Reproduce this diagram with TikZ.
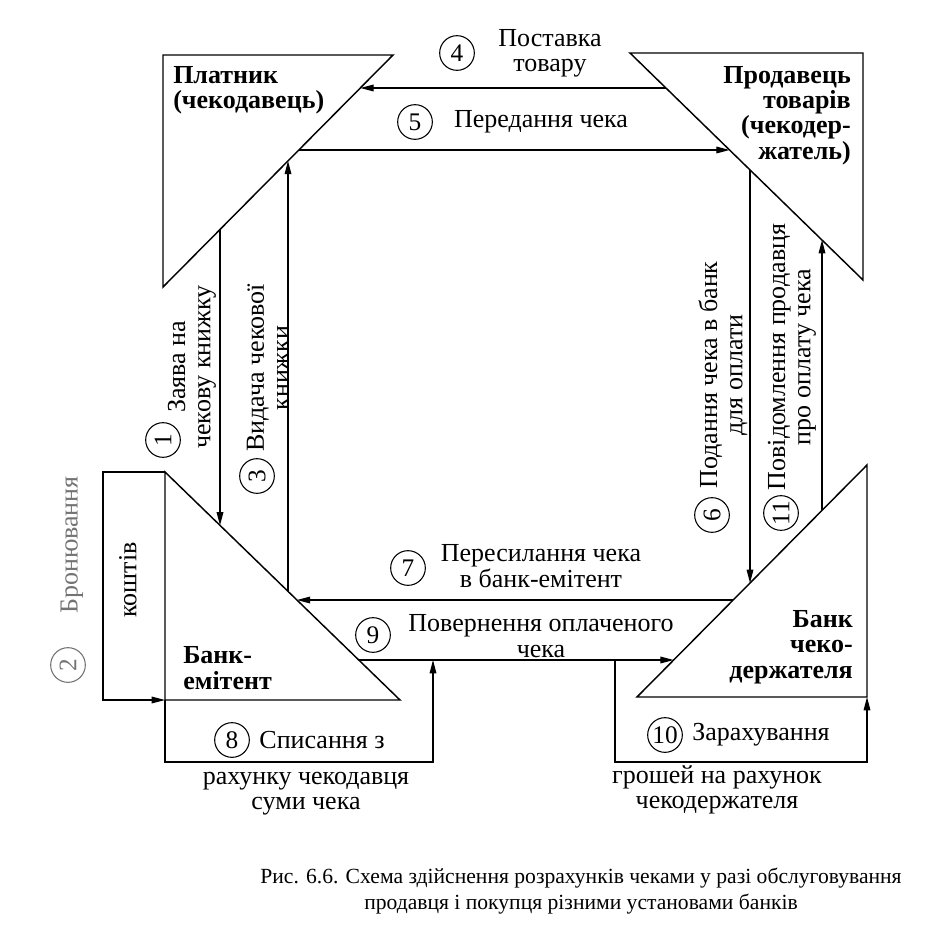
\documentclass[tikz,border=0pt]{standalone}
\usepackage{fontspec}
\setmainfont{Liberation Serif}
\usetikzlibrary{arrows.meta}
\begin{document}
\begin{tikzpicture}[x=0.75pt,y=-0.75pt,
  ln/.style={line width=1.1pt},
  thinln/.style={line width=0.9pt},
  arr/.style={thinln,-{Triangle[length=10pt,width=5pt]}},
  lbl/.style={inner sep=0pt,font=\fontsize{19.5}{19}\selectfont,align=center},
  blbl/.style={inner sep=0pt,font=\fontsize{19.5}{19}\selectfont\bfseries},
  num/.style={circle,draw,line width=0.8pt,minimum size=26pt,inner sep=0pt,font=\fontsize{19}{19}\selectfont},
  faded/.style={black!55},
  captxt/.style={inner sep=0pt,font=\fontsize{16.2}{20}\selectfont,align=center}]
\useasboundingbox (0,0) rectangle (925,952);
% triangles
\coordinate (A1) at (163,55); \coordinate (A2) at (393,55); \coordinate (A3) at (163,287);
\coordinate (B1) at (630,53); \coordinate (B2) at (863,53); \coordinate (B3) at (863,280);
\coordinate (C1) at (165,472); \coordinate (C2) at (165,700); \coordinate (C3) at (400,700);
\coordinate (D1) at (867,465); \coordinate (D2) at (867,697); \coordinate (D3) at (637,697);
\draw[ln] (A1)--(A2)--(A3)--cycle;
\draw[ln] (B1)--(B2)--(B3)--cycle;
\draw[ln] (C1)--(C2)--(C3)--cycle;
\draw[ln] (D1)--(D2)--(D3)--cycle;
% connector end points
\coordinate (a4s) at (665.9,88);  \coordinate (a4e) at (360.3,88);
\coordinate (a5s) at (298.8,150); \coordinate (a5e) at (729.6,150);
\coordinate (a1s) at (220,229.5); \coordinate (a1e) at (220,525.4);
\coordinate (a3s) at (288,591.3); \coordinate (a3e) at (288,160.9);
\coordinate (a6s) at (750,169.9); \coordinate (a6e) at (750,583.0);
\coordinate (a11s) at (822,510.4); \coordinate (a11e) at (822,240.0);
\coordinate (a7s) at (733.1,600); \coordinate (a7e) at (296.9,600);
\coordinate (a9s) at (358.8,660); \coordinate (a9e) at (673.7,660);
\coordinate (p2a) at (103,472); \coordinate (p2b) at (103,700);
\coordinate (p8a) at (165,762); \coordinate (p8b) at (433,762); \coordinate (p8e) at (433,660);
\coordinate (p10s) at (615,660); \coordinate (p10a) at (615,762); \coordinate (p10b) at (867,762);
% connectors
\draw[arr] (a4s)--(a4e);
\draw[arr] (a5s)--(a5e);
\draw[arr] (a1s)--(a1e);
\draw[arr] (a3s)--(a3e);
\draw[arr] (a6s)--(a6e);
\draw[arr] (a11s)--(a11e);
\draw[arr] (a7s)--(a7e);
\draw[arr] (a9s)--(a9e);
\draw[arr] (C1)--(p2a)--(p2b)--(C2);
\draw[arr] (C2)--(p8a)--(p8b)--(p8e);
\draw[arr] (p10s)--(p10a)--(p10b)--(D2);
% box titles
\node[blbl,anchor=north west,align=left] (tA) at (173,66) {Платник\\(чекодавець)};
\node[blbl,anchor=north east,align=right] (tB) at (851,66) {Продавець\\товарів\\(чекодер-\\жатель)};
\node[blbl,anchor=west,align=left] (tC) at (183,668) {Банк-\\емітент};
\node[blbl,anchor=east,align=right] (tD) at (853,647) {Банк\\чеко-\\держателя};
% numbered labels
\node[num] (n4) at (457,53) {4};
\node[lbl] (l4) at (550,53) {Поставка\\товару};
\node[num] (n5) at (415,122) {5};
\node[lbl] (l5) at (541,122) {Передання чека};
\node[num] (n7) at (408,568) {7};
\node[lbl] (l7) at (541,566) {Пересилання чека\\в банк-емітент};
\node[num] (n9) at (373,635) {9};
\node[lbl] (l9) at (541,636) {Повернення оплаченого\\чека};
\node[num] (n8) at (232,740) {8};
\node[lbl] (l8) at (322,740) {Списання з};
\node[lbl] (l8b) at (306,794) {рахунку чекодавця\\суми чека};
\node[num] (n10) at (665,735) {10};
\node[lbl] (l10) at (761,735) {Зарахування};
\node[lbl] (l10b) at (717,790) {грошей на рахунок\\чекодержателя};
\node[num,rotate=90] (n1) at (163,440) {1};
\node[lbl,rotate=90] (l1) at (192,367) {Заява на\\чекову книжку};
\node[num,rotate=90] (n3) at (257,476) {3};
\node[lbl,rotate=90] (l3) at (268,368) {Видача чекової\\книжки};
\node[num,rotate=90] (n6) at (712,515) {6};
\node[lbl,rotate=90] (l6) at (723,375) {Подання чека в банк\\для оплати};
\node[num,rotate=90] (n11) at (781,513) {11};
\node[lbl,rotate=90] (l11) at (792,357) {Повідомлення продавця\\про оплату чека};
\node[num,rotate=90,faded] (n2) at (68,665) {2};
\node[lbl,rotate=90,faded] (l2) at (72,545) {Бронювання};
\node[lbl,rotate=90] (l2b) at (128,580) {коштів};
% caption
\node[captxt] (cap) at (581,891) {Рис. 6.6. Схема здійснення розрахунків чеками у разі обслуговування\\продавця і покупця різними установами банків};
\end{tikzpicture}
\end{document}
